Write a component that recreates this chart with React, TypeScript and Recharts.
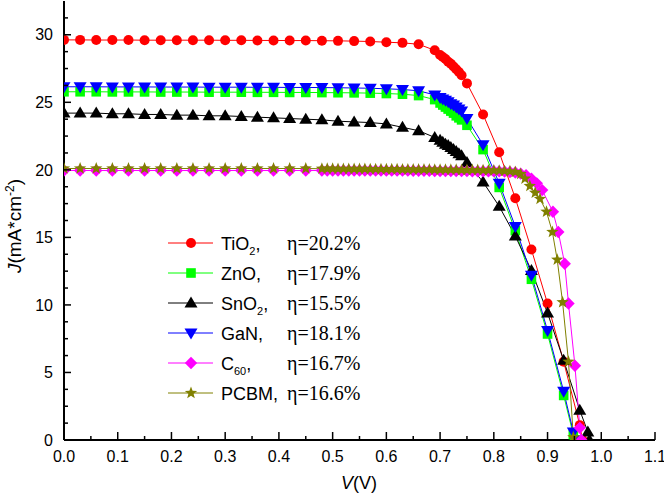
import { LineChart, Line, XAxis, YAxis, Legend, Label } from "recharts";

const SANS = '"Liberation Sans", Arial, sans-serif';
const SERIF = '"Liberation Serif", "DejaVu Serif", "Times New Roman", serif';

// voltage grid shared by the flat part of every curve
const FLAT_V = [0, 0.03, 0.06, 0.09, 0.12, 0.15, 0.18, 0.21, 0.24, 0.27, 0.3, 0.33, 0.36, 0.39, 0.42, 0.45, 0.48, 0.51, 0.54, 0.57];
// knee / drop region for the oxide + GaN layers
const KNEE_V = [0.6, 0.63, 0.66, 0.69, 0.7, 0.705, 0.71, 0.715, 0.72, 0.725, 0.73, 0.735, 0.74, 0.75, 0.78, 0.81, 0.84, 0.87, 0.9, 0.93];

const TIO2_J = [29.62, 29.62, 29.61, 29.61, 29.61, 29.6, 29.6, 29.6, 29.6, 29.6, 29.59, 29.59, 29.58, 29.58, 29.57, 29.57, 29.56, 29.55, 29.53, 29.5,
  29.45, 29.4, 29.3, 28.85, 28.5, 28.35, 28.2, 28.0, 27.85, 27.65, 27.45, 27.25, 27.0, 26.4, 24.1, 21.3, 17.9, 14.1, 10.1, 5.8];
const TIO2_TAIL_V = [0.96, 0.965];
const TIO2_TAIL_J = [1.1, 0];

const ZNO_J = [25.78, 25.78, 25.78, 25.77, 25.77, 25.77, 25.76, 25.76, 25.76, 25.75, 25.75, 25.75, 25.74, 25.74, 25.73, 25.73, 25.72, 25.71, 25.7, 25.68,
  25.65, 25.6, 25.5, 25.2, 24.95, 24.8, 24.65, 24.5, 24.35, 24.2, 24.0, 23.85, 23.7, 23.3, 21.5, 18.7, 15.5, 11.9, 7.85, 3.3];
const ZNO_TAIL_V = [0.948, 0.951];
const ZNO_TAIL_J = [0.4, 0];

const SNO2_J = [24.2, 24.2, 24.2, 24.15, 24.15, 24.1, 24.1, 24.05, 24.05, 24.0, 24.0, 23.95, 23.9, 23.85, 23.8, 23.75, 23.7, 23.6, 23.55, 23.5,
  23.4, 23.15, 22.9, 22.4, 22.2, 22.05, 21.9, 21.8, 21.65, 21.5, 21.35, 21.2, 21.05, 20.55, 19.1, 17.3, 15.1, 12.55, 9.4, 5.9];
const SNO2_TAIL_V = [0.96, 0.975, 0.978];
const SNO2_TAIL_J = [2.2, 0.6, 0];

const GAN_J = [26.15, 26.15, 26.15, 26.14, 26.14, 26.14, 26.13, 26.13, 26.13, 26.12, 26.12, 26.12, 26.11, 26.11, 26.1, 26.1, 26.09, 26.08, 26.06, 26.04,
  26.0, 25.95, 25.85, 25.55, 25.35, 25.25, 25.15, 25.05, 24.9, 24.8, 24.65, 24.5, 24.35, 23.8, 21.85, 19.0, 15.8, 12.2, 8.1, 3.6];
const GAN_TAIL_V = [0.948, 0.952];
const GAN_TAIL_J = [0.6, 0];

// organic layers are sampled finer from 0.48 V
const ORG_V = [0, 0.03, 0.06, 0.09, 0.12, 0.15, 0.18, 0.21, 0.24, 0.27, 0.3, 0.33, 0.36, 0.39, 0.42, 0.45,
  0.48, 0.49, 0.5, 0.51, 0.52, 0.53, 0.54, 0.55, 0.56, 0.57, 0.58, 0.59, 0.6, 0.61, 0.62, 0.63, 0.64, 0.65, 0.66,
  0.67, 0.68, 0.69, 0.7, 0.71, 0.72, 0.73, 0.74, 0.75, 0.76, 0.77, 0.78, 0.79, 0.8, 0.81, 0.82, 0.83, 0.84, 0.85];

const C60_J = [19.95, 19.95, 19.95, 19.95, 19.95, 19.95, 19.95, 19.95, 19.95, 19.95, 19.95, 19.95, 19.95, 19.95, 19.95, 19.95,
  19.95, 19.95, 19.95, 19.95, 19.95, 19.95, 19.95, 19.95, 19.95, 19.95, 19.95, 19.95, 19.94, 19.94, 19.94, 19.94, 19.94, 19.93, 19.93,
  19.93, 19.93, 19.92, 19.92, 19.92, 19.92, 19.91, 19.91, 19.91, 19.9, 19.9, 19.9, 19.9, 19.9, 19.89, 19.87, 19.84, 19.8, 19.72];
const C60_TAIL_V = [0.86, 0.87, 0.88, 0.89, 0.91, 0.92, 0.932, 0.939, 0.951, 0.96, 0.963];
const C60_TAIL_J = [19.6, 19.35, 19.0, 18.5, 16.9, 15.4, 13.05, 10.1, 5.5, 0.9, 0];

const PCBM_J = [20.1, 20.1, 20.1, 20.1, 20.1, 20.1, 20.1, 20.1, 20.1, 20.1, 20.1, 20.1, 20.1, 20.1, 20.1, 20.1,
  20.08, 20.08, 20.08, 20.07, 20.07, 20.07, 20.06, 20.06, 20.06, 20.05, 20.05, 20.05, 20.04, 20.04, 20.04, 20.03, 20.03, 20.03, 20.02,
  20.02, 20.02, 20.01, 20.01, 20.0, 20.0, 20.0, 19.99, 19.99, 19.98, 19.98, 19.97, 19.96, 19.95, 19.94, 19.92, 19.89, 19.84, 19.7];
const PCBM_TAIL_V = [0.858, 0.867, 0.877, 0.886, 0.898, 0.909, 0.918, 0.928, 0.939, 0.948];
const PCBM_TAIL_J = [19.35, 18.8, 18.3, 17.85, 16.9, 15.4, 13.35, 10.2, 5.8, 0.2];

const X_TICKS = [0, 0.05, 0.1, 0.15, 0.2, 0.25, 0.3, 0.35, 0.4, 0.45, 0.5, 0.55, 0.6, 0.65, 0.7, 0.75, 0.8, 0.85, 0.9, 0.95, 1.0, 1.05, 1.1];
const Y_TICKS = [0, 1.25, 2.5, 3.75, 5, 6.25, 7.5, 8.75, 10, 11.25, 12.5, 13.75, 15, 16.25, 17.5, 18.75, 20, 21.25, 22.5, 23.75, 25, 26.25, 27.5, 28.75, 30, 31.25];

type Shape = "circle" | "square" | "up" | "down" | "diamond" | "star";

function zip(v: number[], j: number[]) {
  return v.map((x, i) => ({ v: x, j: j[i] }));
}

const SERIES = [
  { id: "tio2", color: "#ff0000", shape: "circle" as Shape, data: zip([...FLAT_V, ...KNEE_V, ...TIO2_TAIL_V], [...TIO2_J, ...TIO2_TAIL_J]), base: "TiO", sub: "2", eta: "η=20.2%" },
  { id: "zno", color: "#00ff00", shape: "square" as Shape, data: zip([...FLAT_V, ...KNEE_V, ...ZNO_TAIL_V], [...ZNO_J, ...ZNO_TAIL_J]), base: "ZnO", sub: "", eta: "η=17.9%" },
  { id: "sno2", color: "#000000", shape: "up" as Shape, data: zip([...FLAT_V, ...KNEE_V, ...SNO2_TAIL_V], [...SNO2_J, ...SNO2_TAIL_J]), base: "SnO", sub: "2", eta: "η=15.5%" },
  { id: "gan", color: "#0000ff", shape: "down" as Shape, data: zip([...FLAT_V, ...KNEE_V, ...GAN_TAIL_V], [...GAN_J, ...GAN_TAIL_J]), base: "GaN", sub: "", eta: "η=18.1%" },
  { id: "c60", color: "#ff00ff", shape: "diamond" as Shape, data: zip([...ORG_V, ...C60_TAIL_V], [...C60_J, ...C60_TAIL_J]), base: "C", sub: "60", eta: "η=16.7%" },
  { id: "pcbm", color: "#808000", shape: "star" as Shape, data: zip([...ORG_V, ...PCBM_TAIL_V], [...PCBM_J, ...PCBM_TAIL_J]), base: "PCBM", sub: "", eta: "η=16.6%" },
];

function Marker({ shape, color, cx, cy }: { shape: Shape; color: string; cx: number; cy: number }) {
  if (cx == null || cy == null) return null;
  switch (shape) {
    case "circle":
      return <circle cx={cx} cy={cy} r={5} fill={color} />;
    case "square":
      return <rect x={cx - 4.8} y={cy - 4.8} width={9.6} height={9.6} fill={color} />;
    case "up":
      return <polygon points={`${cx},${cy - 6.5} ${cx + 6.5},${cy + 4.5} ${cx - 6.5},${cy + 4.5}`} fill={color} />;
    case "down":
      return <polygon points={`${cx},${cy + 6.5} ${cx + 6.5},${cy - 4.5} ${cx - 6.5},${cy - 4.5}`} fill={color} />;
    case "diamond":
      return <polygon points={`${cx},${cy - 6.2} ${cx + 6.2},${cy} ${cx},${cy + 6.2} ${cx - 6.2},${cy}`} fill={color} />;
    default: {
      const pts: string[] = [];
      for (let k = 0; k < 10; k++) {
        const r = k % 2 === 0 ? 6.5 : 2.7;
        const a = -Math.PI / 2 + (k * Math.PI) / 5;
        pts.push(`${cx + r * Math.cos(a)},${cy + r * Math.sin(a)}`);
      }
      return <polygon points={pts.join(" ")} fill={color} />;
    }
  }
}

function XTick({ x, y, payload }: any) {
  const v = payload.value as number;
  const major = Math.round(v * 100) % 10 === 0;
  return (
    <g>
      <line x1={x} x2={x} y1={y} y2={y - (major ? 8 : 4)} stroke="#000" strokeWidth={1.5} />
      {major && (
        <text x={x} y={y + 22} textAnchor="middle" fontSize={16} fontFamily={SANS} fill="#000">
          {v.toFixed(1)}
        </text>
      )}
    </g>
  );
}

function YTick({ x, y, payload }: any) {
  const v = payload.value as number;
  const major = v % 5 === 0;
  return (
    <g>
      <line x1={x} x2={x + (major ? 7 : 4)} y1={y} y2={y} stroke="#000" strokeWidth={1.5} />
      {major && (
        <text x={x - 11} y={y + 5.7} textAnchor="end" fontSize={16} fontFamily={SANS} fill="#000">
          {v}
        </text>
      )}
    </g>
  );
}

function LegendBox() {
  return (
    <svg width={220} height={185}>
      {SERIES.map((s, i) => {
        const cy = 15 + i * 30;
        return (
          <g key={s.id}>
            <line x1={8} x2={53} y1={cy} y2={cy} stroke={s.color} strokeWidth={1} />
            <Marker shape={s.shape} color={s.color} cx={31} cy={cy} />
            <text x={61} y={cy + 6.5} fontSize={18} fontFamily={SANS} fill="#000">
              {s.base}
              {s.sub && (
                <tspan fontSize={11} dy={5}>
                  {s.sub}
                </tspan>
              )}
              <tspan dy={s.sub ? -5 : 0}>,</tspan>
            </text>
            <text x={127} y={cy + 6.5} fontSize={20} style={{ fontFamily: SERIF }} fill="#000">
              {s.eta}
            </text>
          </g>
        );
      })}
    </svg>
  );
}

export default function App() {
  return (
    <div style={{ position: "absolute", left: 0, top: 0, background: "#fff" }}>
      <LineChart width={664} height={501} margin={{ top: 1, right: 9, bottom: 0, left: 0 }}>
        <XAxis
          dataKey="v"
          type="number"
          domain={[0, 1.1]}
          ticks={X_TICKS}
          interval={0}
          height={61}
          tickSize={0}
          tickMargin={0}
          tickLine={false}
          tick={<XTick />}
          axisLine={{ stroke: "#000", strokeWidth: 2 }}
          allowDataOverflow
        >
          <Label
            content={() => (
              <text x={359} y={489} textAnchor="middle" fontSize={18} fontFamily={SANS} fill="#000">
                <tspan fontStyle="italic">V</tspan>(V)
              </text>
            )}
          />
        </XAxis>
        <XAxis xAxisId="top" orientation="top" type="number" domain={[0, 1.1]} height={0} tick={false} tickLine={false} axisLine={{ stroke: "#000", strokeWidth: 2 }} />
        <YAxis
          type="number"
          domain={[0, 32.5]}
          ticks={Y_TICKS}
          interval={0}
          width={64}
          tickSize={0}
          tickMargin={0}
          tickLine={false}
          tick={<YTick />}
          axisLine={{ stroke: "#000", strokeWidth: 2 }}
          allowDataOverflow
        >
          <Label
            content={() => (
              <text transform="translate(21 226) rotate(-90)" textAnchor="middle" fontSize={19} fontFamily={SANS} fill="#000">
                <tspan fontStyle="italic">J</tspan>(mA*cm
                <tspan fontSize={12} dy={-7}>-2</tspan>
                <tspan dy={7}>)</tspan>
              </text>
            )}
          />
        </YAxis>
        <YAxis yAxisId="right" orientation="right" type="number" domain={[0, 32.5]} width={0} tick={false} tickLine={false} axisLine={{ stroke: "#000", strokeWidth: 2 }} />
        {SERIES.map((s) => (
          <Line
            key={s.id}
            data={s.data}
            dataKey="j"
            name={s.id}
            stroke={s.color}
            strokeWidth={1}
            isAnimationActive={false}
            activeDot={false}
            dot={(p: any) => <Marker key={`${s.id}-${p.index}`} shape={s.shape} color={s.color} cx={p.cx} cy={p.cy} />}
          />
        ))}
        <Legend
          layout="vertical"
          align="center"
          verticalAlign="middle"
          wrapperStyle={{ left: 160, top: 228, width: 220, height: 185 }}
          content={() => <LegendBox />}
        />
      </LineChart>
    </div>
  );
}
